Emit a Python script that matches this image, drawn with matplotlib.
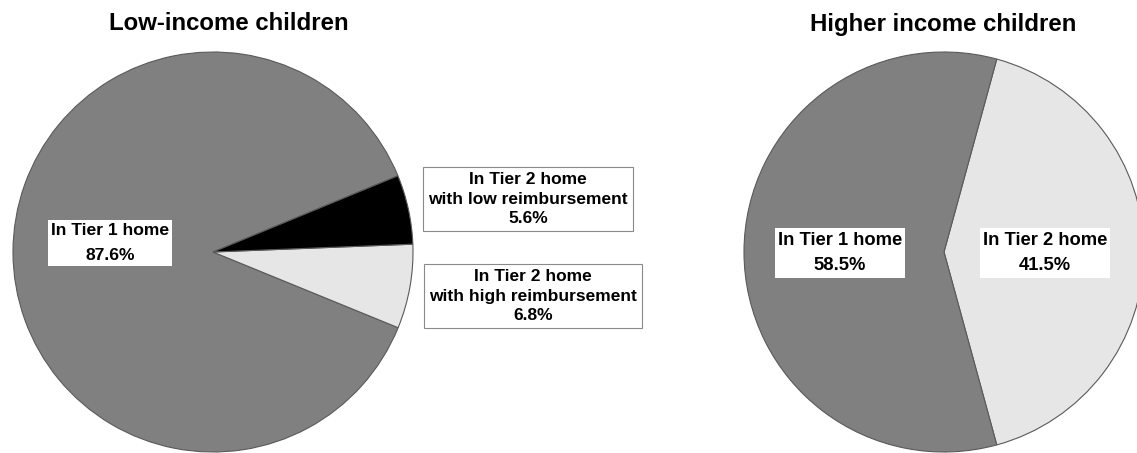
import matplotlib.pyplot as plt

plt.rcParams['font.family'] = ['Liberation Sans', 'DejaVu Sans']
plt.rcParams['font.weight'] = 'bold'

# data
low_titles = 'Low-income children'
low_labels = ['In Tier 1 home', 'In Tier 2 home\nwith high reimbursement',
              'In Tier 2 home\nwith low reimbursement']
low_values = [87.6, 6.8, 5.6]
low_colors = ['#808080', '#e6e6e6', '#000000']

high_titles = 'Higher income children'
high_labels = ['In Tier 2 home', 'In Tier 1 home']
high_values = [41.5, 58.5]
high_colors = ['#e6e6e6', '#808080']

W, H = 1137, 453

fig = plt.figure(figsize=(W / 100, H / 100), dpi=100)
ax = fig.add_axes([0, 0, 1, 1])

wedge_style = dict(edgecolor='#5a5a5a', linewidth=0.8)

# left pie, center in pixel coords (y flipped)
ax.pie(low_values, colors=low_colors, startangle=22.4, counterclock=True,
       center=(213, H - 252), radius=200, wedgeprops=wedge_style)
# right pie
ax.pie(high_values, colors=high_colors, startangle=-74.7, counterclock=True,
       center=(944, H - 252), radius=200, wedgeprops=wedge_style)

ax.set_xlim(0, W)
ax.set_ylim(0, H)
ax.set_aspect('equal')
ax.axis('off')

ax.text(229, H - 24, low_titles, ha='center', va='center', fontsize=17.3, fontweight='bold')
ax.text(943, H - 24, high_titles, ha='center', va='center', fontsize=17.3, fontweight='bold')

plain_box = dict(boxstyle='square,pad=0.18', facecolor='white', edgecolor='none')
framed_box = dict(boxstyle='square,pad=0.32', facecolor='white', edgecolor='#8a8a8a', linewidth=0.8)

# left labels
ax.text(110, H - 243, f'{low_labels[0]}\n{low_values[0]:.1f}%', ha='center', va='center',
        fontsize=12.6, bbox=plain_box, linespacing=1.85)
ax.text(528, H - 199, f'{low_labels[2]}\n{low_values[2]:.1f}%', ha='center', va='center',
        fontsize=12.5, bbox=framed_box, linespacing=1.34)
ax.text(533, H - 296, f'{low_labels[1]}\n{low_values[1]:.1f}%', ha='center', va='center',
        fontsize=12.5, bbox=framed_box, linespacing=1.34)

# right labels
ax.text(840, H - 253, f'{high_labels[1]}\n{high_values[1]:.1f}%', ha='center', va='center',
        fontsize=13.2, bbox=plain_box, linespacing=1.65)
ax.text(1045, H - 253, f'{high_labels[0]}\n{high_values[0]:.1f}%', ha='center', va='center',
        fontsize=13.2, bbox=plain_box, linespacing=1.65)

fig.savefig('out.png', dpi=100)
